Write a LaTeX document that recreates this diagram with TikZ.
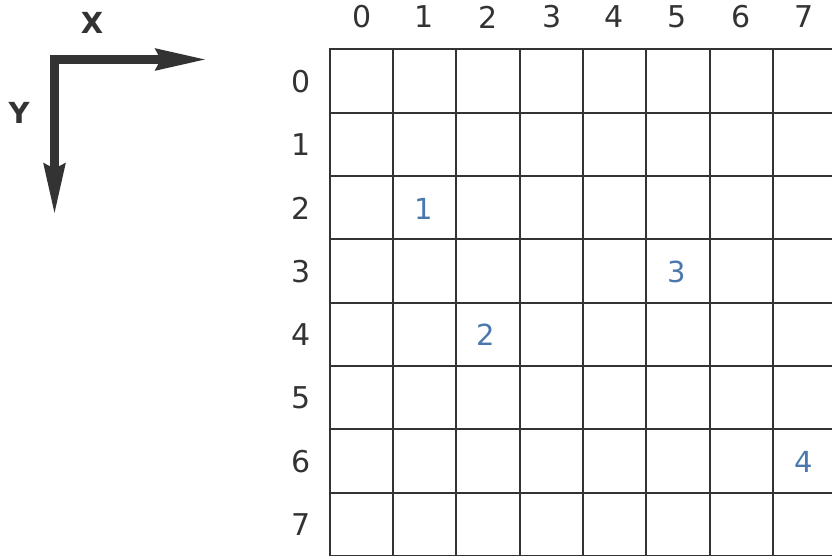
\documentclass[tikz,border=0pt]{standalone}
\usepackage{fontspec}
\setmainfont{DejaVu Sans}
\usepackage{xcolor}
\usetikzlibrary{arrows.meta}
\definecolor{inkgray}{HTML}{333333}
\definecolor{pointblue}{HTML}{4A78AD}

\begin{document}
\begin{tikzpicture}[
    x=1pt, y=-1pt,
    gridline/.style={draw=inkgray, line width=1.6pt, line cap=rect},
    index/.style={text=inkgray, font=\fontsize{30}{36}\selectfont, inner sep=0pt},
    pointlabel/.style={text=pointblue, font=\fontsize{29}{35}\selectfont, inner sep=0pt},
    axisname/.style={text=inkgray, font=\fontsize{29}{35}\selectfont\bfseries, inner sep=0pt},
    axisarrow/.style={draw=inkgray, line width=9.5pt, line join=miter,
      {Stealth[length=51pt, width=20pt, inset=4pt]}-{Stealth[length=51pt, width=20pt, inset=4pt]}}
  ]
    \useasboundingbox (0,0) rectangle (832,556);
    % axes
    \coordinate (origin) at (54.5,59.5);
    \coordinate (xend) at (208,59.5);
    \coordinate (yend) at (54.5,216);
    \draw[axisarrow] (xend) -- (origin) -- (yend);
    \node[axisname] (xname) at (92,23) {X};
    \node[axisname] (yname) at (19,113) {Y};
    % grid
    \foreach \x in {330,393,456,520,583,646,710,773,836}
      \draw[gridline] (\x,49) -- (\x,556);
    \foreach \y in {49,113,176,239,303,366,429,493,556}
      \draw[gridline] (330,\y) -- (836,\y);
    % column and row indices
    \foreach \i/\x in {0/362,1/424,2/488,3/552,4/614,5/677,6/741,7/804}
      \node[index] (col\i) at (\x,17) {\i};
    \foreach \i/\y in {0/82,1/145,2/208,3/272,4/335,5/398,6/462,7/525}
      \node[index] (row\i) at (301,\y) {\i};
    % numbered points
    \node[pointlabel] (p1) at (424,209) {1};
    \node[pointlabel] (p2) at (486,335) {2};
    \node[pointlabel] (p3) at (677,272) {3};
    \node[pointlabel] (p4) at (804,462) {4};
  \end{tikzpicture}
\end{document}
